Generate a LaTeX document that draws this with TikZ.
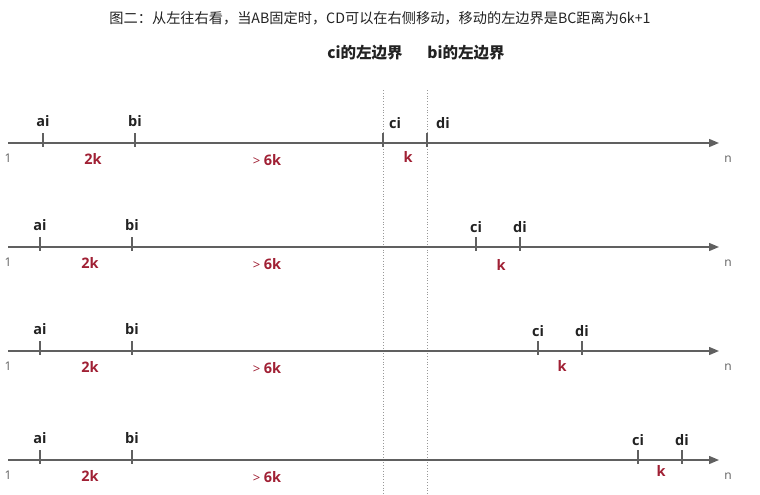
\documentclass[tikz,border=0pt]{standalone}
\usepackage{fontspec}
\setmainfont{Open Sans}
\newfontfamily\cjk{Noto Sans CJK SC}
\usetikzlibrary{arrows.meta}
\definecolor{axisgray}{RGB}{96,96,96}
\definecolor{darkred}{RGB}{160,32,52}
\definecolor{txt}{RGB}{34,34,34}

\begin{document}
\begin{tikzpicture}[x=1pt, y=-1pt,
  axis/.style={draw=axisgray, line width=1.4pt, -{Triangle[length=10pt,width=8pt]}},
  tick/.style={draw=axisgray, line width=1.4pt},
  ptlbl/.style={font=\bfseries\fontsize{14.5}{14.5}\selectfont, text=txt, inner sep=0pt},
  dist/.style={font=\bfseries\fontsize{14.5}{14.5}\selectfont, text=darkred, inner sep=0pt},
  endlbl/.style={font=\fontsize{12}{12}\selectfont, text=axisgray, inner sep=0pt},
  bound/.style={draw=gray!80, dotted, line width=0.8pt},
  boundlbl/.style={font=\cjk\bfseries\fontsize{15.5}{15.5}\selectfont, text=txt, inner sep=0pt}]
  \useasboundingbox (0,0) rectangle (760,495);

  % title
  \node[font=\cjk\fontsize{14.2}{14.2}\selectfont, text=txt, inner sep=0pt] (title) at (380,18)
    {图二：从左往右看，当AB固定时，CD可以在右侧移动，移动的左边界是BC距离为6k+1};

  % the two bounds
  \coordinate (cbt) at (383,90);
  \coordinate (cbb) at (383,495);
  \coordinate (bbt) at (427,90);
  \coordinate (bbb) at (427,495);
  \draw[bound] (cbt) -- (cbb);
  \draw[bound] (bbt) -- (bbb);
  \node[boundlbl] (cbl) at (365,53) {ci的左边界};
  \node[boundlbl] (bbl) at (466,53) {bi的左边界};

  % one axis per row
  \foreach \r/\y/\ax/\bx/\cx/\dx/\cl/\dl/\kx/\ky in
    {1/143/43/135/383/427/395/443/408/157,
     2/247/40/132/476/520/476/520/501/265,
     3/351/40/132/538/582/538/582/562/366,
     4/460/40/132/638/682/638/682/661/471}{
    \coordinate (s\r) at (8,\y);
    \coordinate (e\r) at (719,\y);
    \draw[axis] (s\r) -- (e\r);
    \foreach \p/\x in {a/\ax,b/\bx,c/\cx,d/\dx}{
      \coordinate (\p\r) at (\x,\y);
      \draw[tick] ([yshift=10pt]\p\r) -- ([yshift=-4pt]\p\r);
    }
    \node[ptlbl] (al\r) at (\ax,\y-22) {ai};
    \node[ptlbl] (bl\r) at (\bx,\y-22) {bi};
    \node[ptlbl] (cl\r) at (\cl,\y-20) {ci};
    \node[ptlbl] (dl\r) at (\dl,\y-20) {di};
    \node[dist] (ab\r) at (\ax+50,\y+16) {2k};
    \node[dist] (bc\r) at (267,\y+17) {{\mdseries\fontsize{13}{13}\selectfont >}\ 6k};
    \node[dist] (cd\r) at (\kx,\ky) {k};
    \node[endlbl] (one\r) at (8,\y+15) {1};
    \node[endlbl] (n\r) at (728,\y+16) {n};
  }
\end{tikzpicture}
\end{document}
